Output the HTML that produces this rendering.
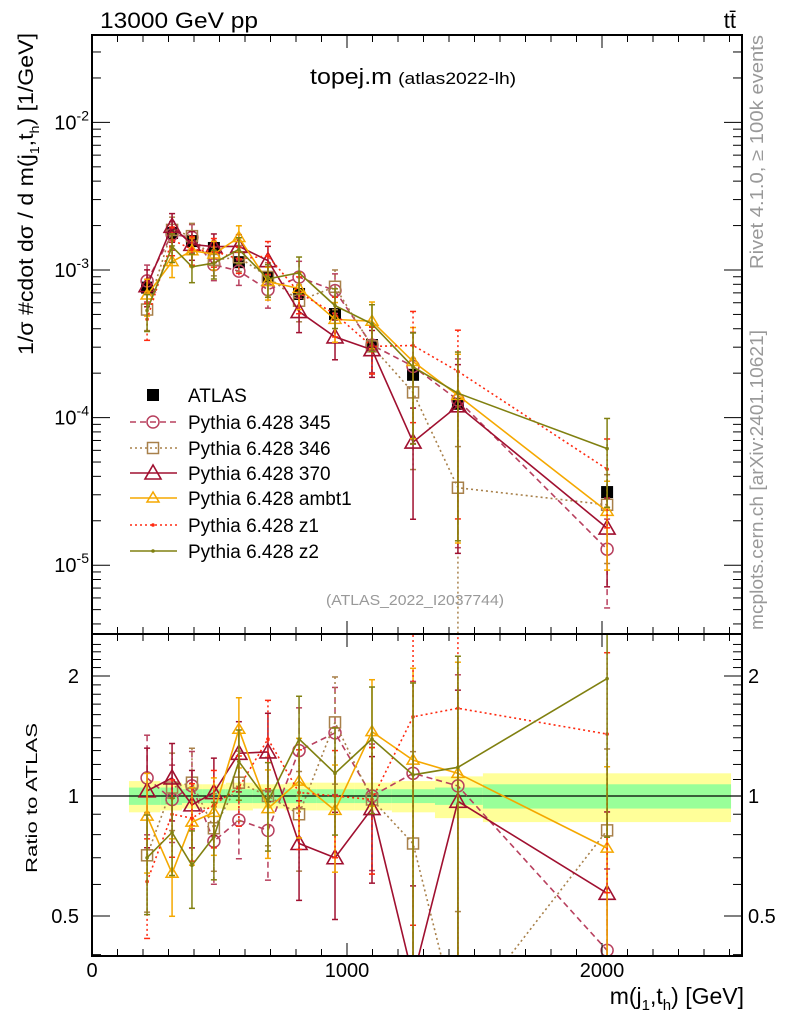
<!DOCTYPE html>
<html><head><meta charset="utf-8"><style>
html,body{margin:0;padding:0;background:#fff;overflow:hidden;width:786px;height:1024px}
svg{display:block;font-family:"Liberation Sans",sans-serif}
</style></head><body>
<svg id="chart" width="786" height="1024" viewBox="0 0 786 1024" xmlns="http://www.w3.org/2000/svg">
<g id="bands"></g>
<g id="grid"></g>
<g id="series"></g>
<g id="frame"></g>
<text x="100" y="28" font-size="22" textLength="158" lengthAdjust="spacingAndGlyphs">13000 GeV pp</text>
<text x="736" y="28" font-size="22" text-anchor="end">tt̄</text>
<text x="310" y="84" font-size="22"><tspan textLength="82" lengthAdjust="spacingAndGlyphs">topej.m</tspan> <tspan font-size="17" textLength="118" lengthAdjust="spacingAndGlyphs">(atlas2022-lh)</tspan></text>
<text x="415" y="605" font-size="15" fill="#999" text-anchor="middle" textLength="178" lengthAdjust="spacingAndGlyphs">(ATLAS_2022_I2037744)</text>
<text transform="translate(33,194) rotate(-90)" font-size="21" text-anchor="middle" textLength="322" lengthAdjust="spacingAndGlyphs">1/σ #cdot dσ / d m(j<tspan font-size="13" dy="6">1</tspan><tspan dy="-6">,t</tspan><tspan font-size="13" dy="6">h</tspan><tspan dy="-6">) [1/GeV]</tspan></text>
<text transform="translate(37,798) rotate(-90)" font-size="16" text-anchor="middle" textLength="150" lengthAdjust="spacingAndGlyphs">Ratio to ATLAS</text>
<text transform="translate(763,152) rotate(-90)" font-size="18" fill="#999" text-anchor="middle" textLength="234" lengthAdjust="spacingAndGlyphs">Rivet 4.1.0, ≥ 100k events</text>
<text transform="translate(763,480) rotate(-90)" font-size="18" fill="#999" text-anchor="middle" textLength="300" lengthAdjust="spacingAndGlyphs">mcplots.cern.ch [arXiv:2401.10621]</text>
<text x="744" y="1004" font-size="23" text-anchor="end">m(j<tspan font-size="15" dy="6">1</tspan><tspan dy="-6">,t</tspan><tspan font-size="15" dy="6">h</tspan><tspan dy="-6">) [GeV]</tspan></text>
<g id="legend"></g>
</svg>
<script>
const xCenters=[216,314,392,478,576,690,812,953,1098,1259,1435,2020];
const atlasVals=[7.6e-4,1.78e-3,1.57e-3,1.41e-3,1.13e-3,8.97e-4,6.88e-4,5.03e-4,3.10e-4,1.95e-4,1.24e-4,3.13e-5];
const atlasErr=[0.08,0.07,0.07,0.07,0.07,0.08,0.08,0.09,0.09,0.1,0.1,0.14];
const ratio345=[1.11,0.98,1.06,0.77,0.87,0.82,1.30,1.44,1.0,1.14,1.06,0.41];
const ratio346=[0.71,1.05,1.08,0.83,1.08,1.0,0.90,1.53,0.98,0.76,0.27,0.82];
const ratio370=[1.03,1.11,0.95,1.02,1.28,1.29,0.76,0.70,0.93,0.35,0.97,0.57];
const ratioAmbt1=[0.89,0.64,0.86,0.91,1.47,0.93,1.09,0.92,1.45,1.23,1.14,0.74];
const ratioZ1=[0.61,0.9,0.88,0.95,1.05,1.39,1.02,1.0,0.98,1.58,1.66,1.43];
const ratioZ2=[0.70,0.81,0.67,0.79,1.22,0.97,1.39,1.14,1.39,1.13,1.18,1.97];
const mcRelErr=[0.28,0.22,0.22,0.22,0.2,0.25,0.28,0.3,0.35,0.7,0.9,0.6];
const bandEdges=[145,268,353,435,525,631,756,882,1031,1176,1345,1533,2506];
const bandInner=[0.05,0.05,0.04,0.04,0.04,0.04,0.04,0.04,0.04,0.04,0.05,0.07];
const bandOuter=[0.09,0.08,0.07,0.07,0.08,0.07,0.08,0.08,0.08,0.09,0.12,0.14];
const xTickLabels=["0","1000","2000"];
const yDecades=[-5,-4,-3,-2];
const ratioTicks=[0.5,1,2];

const NS="http://www.w3.org/2000/svg";
const L=92,R=742,T=35,MB=634,RB=956;
const X=v=>L+v*0.255;
const Y=v=>270-(Math.log10(v)+3)*147.6;
const RY=r=>796-Math.log2(r)*120;
function el(tag,attrs,parent){const e=document.createElementNS(NS,tag);for(const k in attrs)e.setAttribute(k,attrs[k]);parent.appendChild(e);return e;}
const svg=document.getElementById('chart');
const bands=document.getElementById('bands'),frame=document.getElementById('frame'),ser=document.getElementById('series'),leg=document.getElementById('legend');

const defs=el('defs',{},svg);
const c1=el('clipPath',{id:'cm'},defs);el('rect',{x:L,y:T,width:R-L,height:MB-T},c1);
const c2=el('clipPath',{id:'cr'},defs);el('rect',{x:L,y:MB,width:R-L,height:RB-MB},c2);

for(let i=0;i<bandOuter.length;i++){
  const x0=X(bandEdges[i]),x1=X(bandEdges[i+1]);
  const o=el('rect',{x:x0,y:RY(1+bandOuter[i]),width:x1-x0,height:RY(1-bandOuter[i])-RY(1+bandOuter[i]),fill:'#ffff99'},bands);
  
  
  const g=el('rect',{x:x0,y:RY(1+bandInner[i]),width:x1-x0,height:RY(1-bandInner[i])-RY(1+bandInner[i]),fill:'#99ff99'},bands);
  
  
}
el('line',{x1:L,x2:R,y1:RY(1),y2:RY(1),stroke:'#000','stroke-width':1.2},bands);

el('rect',{x:L,y:T,width:R-L,height:MB-T,fill:'none',stroke:'#000','stroke-width':2},frame);
el('rect',{x:L,y:MB,width:R-L,height:RB-MB,fill:'none',stroke:'#000','stroke-width':2},frame);
for(let v=0;v<=2500;v+=100){
  const x=X(v),len=v%1000===0?13:7;
  for(const [y,d] of [[T,1],[MB,-1],[MB,1],[RB,-1]]) el('line',{x1:x,x2:x,y1:y,y2:y+d*len,stroke:'#000','stroke-width':1},frame);
}
xTickLabels.forEach((t,i)=>{const e=el('text',{x:X(i*1000),y:977,'font-size':20,'text-anchor':'middle'},frame);e.textContent=t;

});
for(let d=-6;d<=-2;d++){for(let m=1;m<10;m++){const y=Y(m*Math.pow(10,d));if(y<T||y>MB)continue;const len=m===1?18:9;
 el('line',{x1:L,x2:L+len,y1:y,y2:y,stroke:'#000'},frame);el('line',{x1:R,x2:R-len,y1:y,y2:y,stroke:'#000'},frame);}}
yDecades.forEach(d=>{const e=el('text',{x:89,y:Y(Math.pow(10,d))+7,'font-size':20,'text-anchor':'end'},frame);e.innerHTML='10<tspan font-size="14" dy="-9">'+d+'</tspan>';

});
for(let r=0.4;r<=2.5;r+=0.1){const y=RY(r);if(y<MB||y>RB)continue;const major=Math.abs(r-0.5)<1e-6||Math.abs(r-1)<1e-6||Math.abs(r-2)<1e-6;const len=major?18:9;
 el('line',{x1:L,x2:L+len,y1:y,y2:y,stroke:'#000'},frame);el('line',{x1:R,x2:R-len,y1:y,y2:y,stroke:'#000'},frame);}
ratioTicks.forEach(r=>{const a=el('text',{x:79,y:RY(r)+7,'font-size':20,'text-anchor':'end'},frame);a.textContent=String(r);


const b=el('text',{x:748,y:RY(r)+7,'font-size':20},frame);b.textContent=String(r);

});

const series=[
 {name:'Pythia 6.428 345',key:'345',r:ratio345,c:'#b8405e',dash:'6,4',m:'circle'},
 {name:'Pythia 6.428 346',key:'346',r:ratio346,c:'#a8804a',dash:'2,3',m:'square'},
 {name:'Pythia 6.428 370',key:'370',r:ratio370,c:'#a01030',dash:'',m:'tri'},
 {name:'Pythia 6.428 ambt1',key:'ambt1',r:ratioAmbt1,c:'#f5a800',dash:'',m:'trismall'},
 {name:'Pythia 6.428 z1',key:'z1',r:ratioZ1,c:'#ff2a10',dash:'2,3',m:'dot'},
 {name:'Pythia 6.428 z2',key:'z2',r:ratioZ2,c:'#808010',dash:'',m:'dot'}
];
function marker(g,m,x,y,c){
 if(m==='circle')el('circle',{cx:x,cy:y,r:6,fill:'none',stroke:c,'stroke-width':1.5},g);
 else if(m==='square')el('rect',{x:x-5.5,y:y-5.5,width:11,height:11,fill:'none',stroke:c,'stroke-width':1.5},g);
 else if(m==='tri')el('polygon',{points:`${x},${y-8} ${x-8},${y+6} ${x+8},${y+6}`,fill:'none',stroke:c,'stroke-width':1.6},g);
 else if(m==='trismall')el('polygon',{points:`${x},${y-6} ${x-6},${y+4} ${x+6},${y+4}`,fill:'none',stroke:c,'stroke-width':1.5},g);
 else el('circle',{cx:x,cy:y,r:1.8,fill:c},g);
}
function draw(s,panel){
 const g=el('g',{'clip-path':panel==='main'?'url(#cm)':'url(#cr)'},ser);
 
 
 const vals=s.r.map((r,i)=>panel==='main'?atlasVals[i]*r:r);
 const fy=panel==='main'?Y:RY;
 const pts=vals.map((v,i)=>X(xCenters[i])+','+fy(v)).join(' ');
 el('polyline',{points:pts,fill:'none',stroke:s.c,'stroke-width':1.6,'stroke-dasharray':s.dash},g);
 vals.forEach((v,i)=>{const x=X(xCenters[i]);const e=mcRelErr[i];
  const yt=fy(v*(1+e)),yb=fy(Math.max(v*(1-e),v*0.01));
  el('line',{x1:x,x2:x,y1:yt,y2:yb,stroke:s.c,'stroke-width':1.5,'stroke-dasharray':s.dash},g);
  el('line',{x1:x-3,x2:x+3,y1:yt,y2:yt,stroke:s.c,'stroke-width':1.5},g);
  el('line',{x1:x-3,x2:x+3,y1:yb,y2:yb,stroke:s.c,'stroke-width':1.5},g);
  marker(g,s.m,x,fy(v),s.c);});
}
const ag=el('g',{'clip-path':'url(#cm)'},ser);


atlasVals.forEach((v,i)=>{const x=X(xCenters[i]);
 el('line',{x1:x,x2:x,y1:Y(v*(1+atlasErr[i])),y2:Y(v*(1-atlasErr[i])),stroke:'#000','stroke-width':1.5},ag);
 el('rect',{x:x-6,y:Y(v)-6,width:12,height:12,fill:'#000'},ag);});
series.forEach(s=>{draw(s,'main');draw(s,'ratio');});

const ly=[395,422,448,473,498,525,551];
const la=el('g',{},leg);


el('rect',{x:147,y:ly[0]-6,width:12,height:12,fill:'#000'},la);
const t0=el('text',{x:188,y:ly[0]+7,'font-size':19},la);t0.textContent='ATLAS';
series.forEach((s,i)=>{const g=el('g',{},leg);
 
 
 const y=ly[i+1];
 el('line',{x1:130,x2:177,y1:y,y2:y,stroke:s.c,'stroke-width':1.6,'stroke-dasharray':s.dash},g);
 marker(g,s.m,153,y,s.c);
 const t=el('text',{x:188,y:y+7,'font-size':19},g);t.textContent=s.name;});
</script>
</body></html>
